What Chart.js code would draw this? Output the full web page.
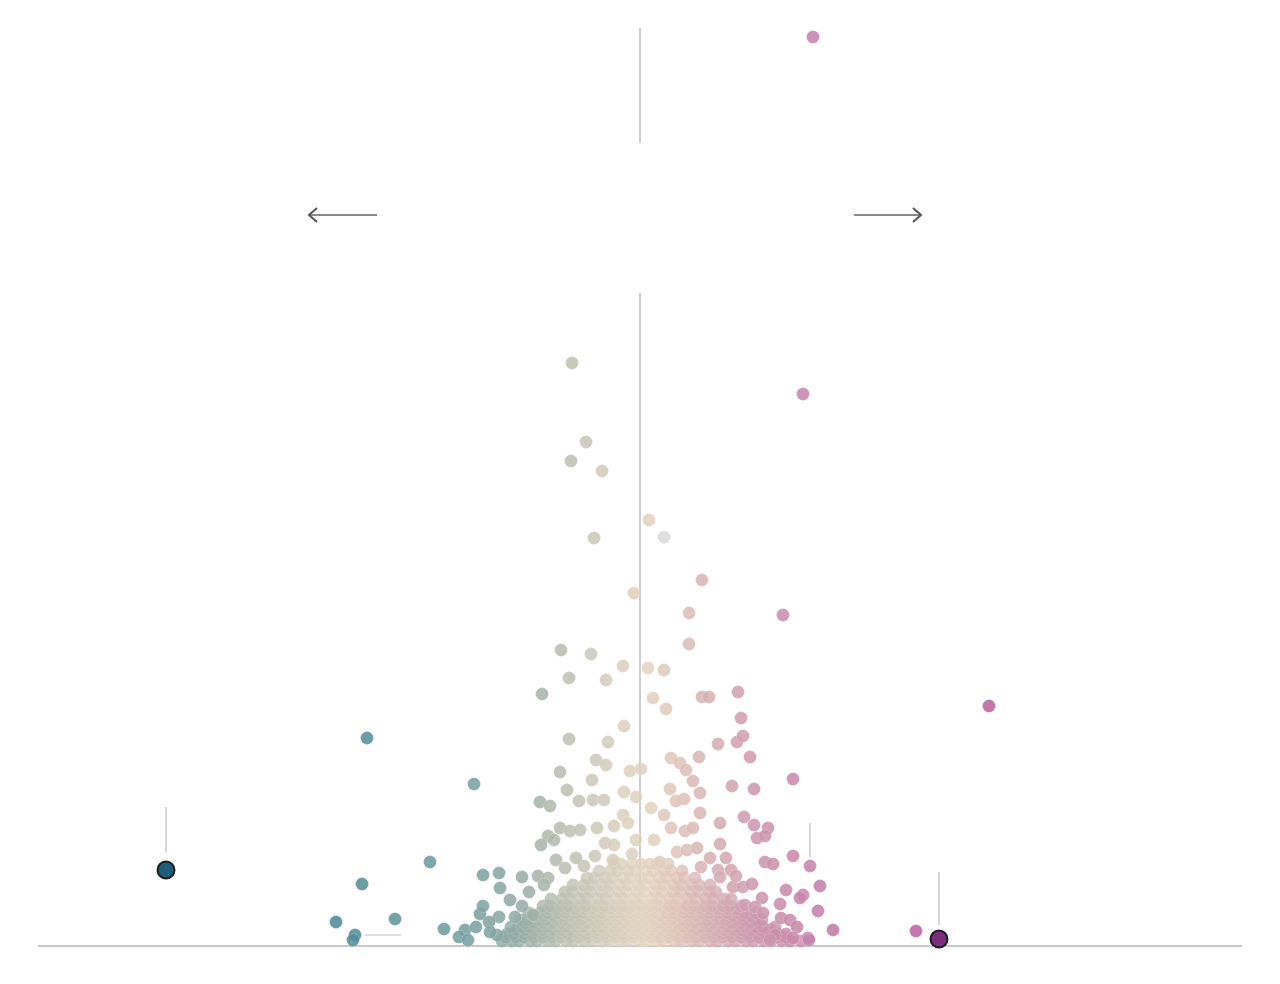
<!DOCTYPE html>
<html><head><meta charset="utf-8">
<script src="https://cdn.jsdelivr.net/npm/chart.js@4/dist/chart.umd.min.js"></script>
<style>html,body{margin:0;padding:0;background:#fff;}canvas{display:block;}</style>
</head><body>
<canvas id="c" width="1280" height="984"></canvas>
<script>
// Values: x = horizontal offset from the centre line, y = height above the baseline
const scatterPoints = [
  [173,909],[-68,583],[163,552],[-54,504],[-69,485],[-38,475],[9,426],[-46,408],
  [62,366],[-6,353],[49,333],[143,331],[49,302],[-79,296],[-49,292],[-17,280],[8,278],[24,276],
  [-71,268],[-34,266],[-98,252],[98,254],[62,249],[69,249],[13,248],[26,237],[101,228],[349,240],
  [-16,220],[-273,208],[-71,207],[97,204],[103,210],[-32,204],[78,202],[110,189],[31,188],[40,183],
  [46,176],[59,189],[-44,186],[-34,181],[-80,174],[-10,175],[1,177],[-48,166],[153,167],[53,165],
  [-166,162],[30,157],[92,160],[114,157],[-73,156],[60,153],[-16,154],[-4,149],[-47,146],[-36,146],
  [-61,145],[-100,144],[44,147],[36,145],[-90,140],[11,138],[60,133],[-17,131],[24,131],[104,129],
  [80,123],[114,121],[128,118],[117,108],[125,110],[-26,120],[-43,118],[-80,118],[-70,115],[-60,116],
  [-12,123],[31,118],[45,115],[53,118],[-92,110],[-86,106],[80,102],[-99,101],[-35,103],[-26,101],
  [-4,106],[14,106],[37,94],[47,96],[57,98],[153,90],[86,88],[-84,86],[-45,90],[-27,86],[-210,84],
  [125,84],[133,82],[170,80],[61,79],[78,76],[91,76],[-157,71],[-141,73],[-118,69],[-102,70],[-92,68],
  [-278,62],[180,60],[146,56],[163,51],[160,48],[-140,58],[-111,54],[122,48],[140,42],[178,35],
  [-245,27],[-304,24],[-160,32],[-141,29],[-125,29],[-196,17],[-175,16],[-164,19],[-151,24],[193,16],
  [276,15],[-285,11],[-287,6],[-181,9],[-172,6],[-143,11],[141,28],[150,26],[157,19],[168,8],[169,6],
  [153,8],[135,11],[130,6],[105,41],[93,59],[115,39],[123,33],[103,59],[80,69],[-75,78],[-56,80],[-107,31],
  [-96,61],[-64,88],[-8,92],[20,84],[70,88],[96,70],[-118,40],[112,62],[-130,46],[-150,14],[-157,40]
];
// The one pale grey point, just right of the centre line
const greyPoints = [[24,409]];
// Dense core near the baseline: each row is a height and the offsets of the points on it
const coreHeights = [5,9,12,16,19,23,26,30,33,37,40,47,54,61,68,75,82];
const coreOffsets = [
  [-138,-128,-121,-110,-103,-92,-85,-74,-67,-56,-49,-38,-31,-20,-13,-2,5,16,23,34,41,52,59,70,77,88,95,106,113,124,131,142,150,161],
  [-134,-124,-116,-106,-97,-88,-79,-70,-61,-52,-43,-34,-25,-16,-7,2,11,20,29,38,47,56,65,74,83,92,101,110,119,128,137,146],
  [-133,-126,-115,-108,-97,-90,-79,-72,-61,-54,-43,-36,-25,-18,-7,0,11,18,29,36,47,54,65,72,83,90,101,108,119,126,138,146],
  [-124,-115,-106,-97,-88,-79,-70,-61,-52,-43,-34,-25,-16,-7,3,12,21,30,39,48,57,66,75,84,93,102,111,120,130],
  [-129,-118,-111,-100,-93,-82,-75,-64,-57,-46,-39,-28,-21,-10,-3,8,15,26,33,44,51,62,69,80,87,98,105,116,123,135],
  [-115,-106,-97,-88,-79,-70,-61,-52,-43,-34,-25,-16,-7,2,11,20,29,38,47,56,65,74,83,92,101,110,119],
  [-119,-112,-101,-94,-83,-76,-65,-58,-47,-40,-29,-22,-11,-4,7,14,25,32,43,50,61,68,79,86,97,104,115,122],
  [-105,-96,-87,-78,-69,-60,-51,-42,-33,-24,-15,-6,3,12,21,30,39,48,57,66,75,84,93,102,111],
  [-111,-100,-93,-82,-75,-64,-57,-46,-39,-28,-21,-10,-3,8,15,26,33,44,51,62,69,80,87,98,105,116],
  [-92,-83,-74,-65,-56,-47,-38,-29,-20,-11,-2,7,16,25,34,43,52,61,70,79,88,97],
  [-97,-90,-79,-72,-61,-54,-43,-36,-25,-18,-7,0,11,18,29,36,47,54,65,72,83,90,101],
  [-89,-78,-71,-60,-53,-42,-35,-24,-17,-6,1,12,19,30,37,48,55,66,73,84,91],
  [-75,-68,-57,-50,-39,-32,-21,-14,-3,4,15,22,33,40,51,58,69,76],
  [-67,-56,-49,-38,-31,-20,-13,-2,5,16,23,34,41,52,59,70],
  [-53,-46,-35,-28,-17,-10,1,8,19,26,37,44,55],
  [-41,-30,-23,-12,-5,6,13,24,31,42],
  [-26,-19,-8,1,10,17,28]
];
const highlightPoints = [[-474,76],[299,7]];
const highlightFills = ['#1d5d7a','#7b2c7f'];

const corePoints = [];
coreHeights.forEach((h,i)=>coreOffsets[i].forEach(x=>corePoints.push({x:x,y:h})));
const toXY = a => a.map(p=>({x:p[0],y:p[1]}));

const stops = [[-300,[78,140,152]],[-210,[108,154,160]],[-160,[125,162,162]],[-120,[150,172,166]],
  [-80,[185,190,176]],[-45,[205,202,186]],[-15,[220,209,190]],[5,[228,212,192]],[35,[224,198,186]],
  [65,[216,180,181]],[110,[206,155,175]],[160,[200,135,172]],[220,[193,115,168]],[300,[185,98,162]],[360,[185,100,160]]];
function colorFor(x, a){
  let c = stops[0][1];
  if (x >= stops[stops.length-1][0]) c = stops[stops.length-1][1];
  else for (let i=0;i<stops.length-1;i++){
    const [x0,c0]=stops[i],[x1,c1]=stops[i+1];
    if (x>=x0 && x<=x1){const t=(x-x0)/(x1-x0);c=c0.map((v,k)=>Math.round(v+(c1[k]-v)*t));break;}
  }
  return `rgba(${c[0]},${c[1]},${c[2]},${a})`;
}

const decor = {
  id:'decor',
  beforeDatasetsDraw(chart){
    const {ctx, scales:{x,y}} = chart;
    const X=v=>x.getPixelForValue(v), Y=v=>y.getPixelForValue(v);
    ctx.save();
    ctx.strokeStyle='#c8c8c8'; ctx.lineWidth=2;
    ctx.beginPath(); ctx.moveTo(X(-602),Y(0)); ctx.lineTo(X(602),Y(0)); ctx.stroke();
    ctx.strokeStyle='#bdbdbd'; ctx.lineWidth=1.5;
    ctx.beginPath(); ctx.moveTo(X(0),Y(918)); ctx.lineTo(X(0),Y(803));
    ctx.moveTo(X(0),Y(653)); ctx.lineTo(X(0),Y(0)); ctx.stroke();
    ctx.strokeStyle='#bcbcbc'; ctx.lineWidth=1.2;
    ctx.beginPath();
    ctx.moveTo(X(-474),Y(139)); ctx.lineTo(X(-474),Y(94));
    ctx.moveTo(X(-275),Y(11)); ctx.lineTo(X(-239),Y(11));
    ctx.moveTo(X(170),Y(123)); ctx.lineTo(X(170),Y(89));
    ctx.moveTo(X(299),Y(74)); ctx.lineTo(X(299),Y(21));
    ctx.stroke();
    const ay=Y(731);
    ctx.strokeStyle='#8a8a8a'; ctx.lineWidth=2;
    ctx.beginPath(); ctx.moveTo(X(-263),ay); ctx.lineTo(X(-330),ay);
    ctx.moveTo(X(214),ay); ctx.lineTo(X(280),ay); ctx.stroke();
    ctx.strokeStyle='#555'; ctx.lineWidth=2; ctx.lineJoin='miter';
    ctx.beginPath();
    ctx.moveTo(X(-331)+8,ay-7); ctx.lineTo(X(-331),ay); ctx.lineTo(X(-331)+8,ay+7);
    ctx.moveTo(X(281)-8,ay-7); ctx.lineTo(X(281),ay); ctx.lineTo(X(281)-8,ay+7);
    ctx.stroke();
    ctx.restore();
  }
};

new Chart(document.getElementById('c'), {
  type:'scatter',
  data:{datasets:[
    {data:corePoints, order:4, clip:false, pointRadius:6.5, borderWidth:0.5,
     backgroundColor:c=>colorFor(c.raw?c.raw.x:0,0.8), borderColor:'rgba(255,255,255,0.25)'},
    {data:toXY(scatterPoints), order:3, clip:false, pointRadius:6.5, borderWidth:0.6,
     backgroundColor:c=>colorFor(c.raw?c.raw.x:0,0.88), borderColor:'rgba(255,255,255,0.35)'},
    {data:toXY(greyPoints), order:2, clip:false, pointRadius:6.5, borderWidth:0,
     backgroundColor:'rgba(220,220,222,0.9)'},
    {data:toXY(highlightPoints), order:1, clip:false, pointRadius:8.5, borderWidth:2,
     backgroundColor:highlightFills, borderColor:'#1e1e1e'}
  ]},
  options:{
    responsive:false, animation:false, devicePixelRatio:1,
    layout:{padding:{left:38,right:38,top:28,bottom:38}},
    plugins:{legend:{display:false},tooltip:{enabled:false}},
    events:[],
    scales:{
      x:{type:'linear',min:-602,max:602,display:false},
      y:{type:'linear',min:0,max:918,display:false}
    },
    elements:{point:{hoverRadius:6.5}}
  },
  plugins:[decor]
});
</script>
</body></html>
